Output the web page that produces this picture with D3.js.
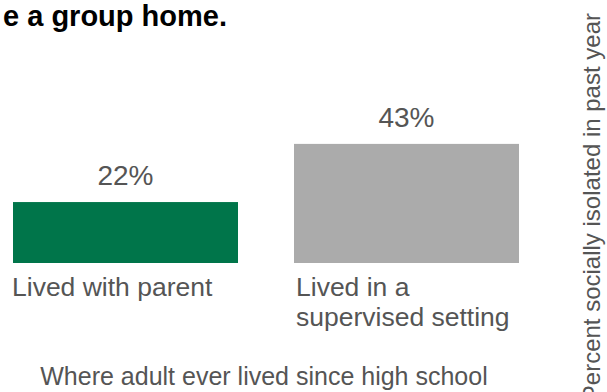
<!DOCTYPE html>
<html>
<head>
<meta charset="utf-8">
<script src="https://cdn.jsdelivr.net/npm/d3@7"></script>
<style>
  html, body { margin: 0; padding: 0; background: #fff; }
  svg { display: block; font-family: "Liberation Sans", Arial, Helvetica, sans-serif; }
</style>
</head>
<body>
<svg id="chart" width="607" height="392"></svg>
<script>
const categories = ["Lived with parent", "Lived in a supervised setting"];
const categoryLines = [["Lived with parent"], ["Lived in a", "supervised setting"]];
const values = [22, 43];
const valueLabels = ["22%", "43%"];
const colors = ["#00754A", "#ABABAB"];
const titleText = "e a group home.";
const xTitle = "Where adult ever lived since high school";
const yTitle = "Percent socially isolated in past year";

const svg = d3.select("#chart");
const baseY = 263;

const x = d3.scaleBand().domain(categories).range([13, 519]).paddingInner(56 / 281).paddingOuter(0);
const y = d3.scaleLinear().domain([0, 100]).range([baseY, baseY - 277]);

// title (cropped in the reference)
svg.append("text")
  .attr("x", 227).attr("y", 26)
  .attr("text-anchor", "end")
  .attr("font-size", 29).attr("font-weight", "bold")
  .attr("fill", "#000")
  .text(titleText);

// bars
svg.selectAll("rect.bar").data(categories).enter().append("rect")
  .attr("class", "bar")
  .attr("x", d => x(d))
  .attr("y", (d, i) => y(values[i]))
  .attr("width", x.bandwidth())
  .attr("height", (d, i) => baseY - y(values[i]))
  .attr("fill", (d, i) => colors[i]);

// value labels
svg.selectAll("text.val").data(categories).enter().append("text")
  .attr("class", "val")
  .attr("x", d => x(d) + x.bandwidth() / 2)
  .attr("y", (d, i) => y(values[i]) - 17)
  .attr("text-anchor", "middle")
  .attr("font-size", 28)
  .attr("fill", "#555")
  .text((d, i) => valueLabels[i]);

// category labels
const cat = svg.selectAll("text.cat").data(categories).enter().append("text")
  .attr("class", "cat")
  .attr("font-size", 26.5)
  .attr("fill", "#555");
cat.each(function(d, i) {
  const t = d3.select(this);
  const x0 = x(d) + (i === 0 ? -1 : 2);
  categoryLines[i].forEach((line, j) => {
    t.append("tspan").attr("x", x0).attr("y", 296 + j * 30).text(line);
  });
});

// x axis title
svg.append("text")
  .attr("x", (x(categories[0]) + x(categories[1]) + x.bandwidth()) / 2 - 2)
  .attr("y", 385)
  .attr("text-anchor", "middle")
  .attr("font-size", 25)
  .attr("fill", "#555")
  .text(xTitle);

// y axis title (right side, rotated)
svg.append("text")
  .attr("transform", "translate(600,13) rotate(-90)")
  .attr("text-anchor", "end")
  .attr("font-size", 24)
  .attr("fill", "#555")
  .text(yTitle);
</script>
</body>
</html>
